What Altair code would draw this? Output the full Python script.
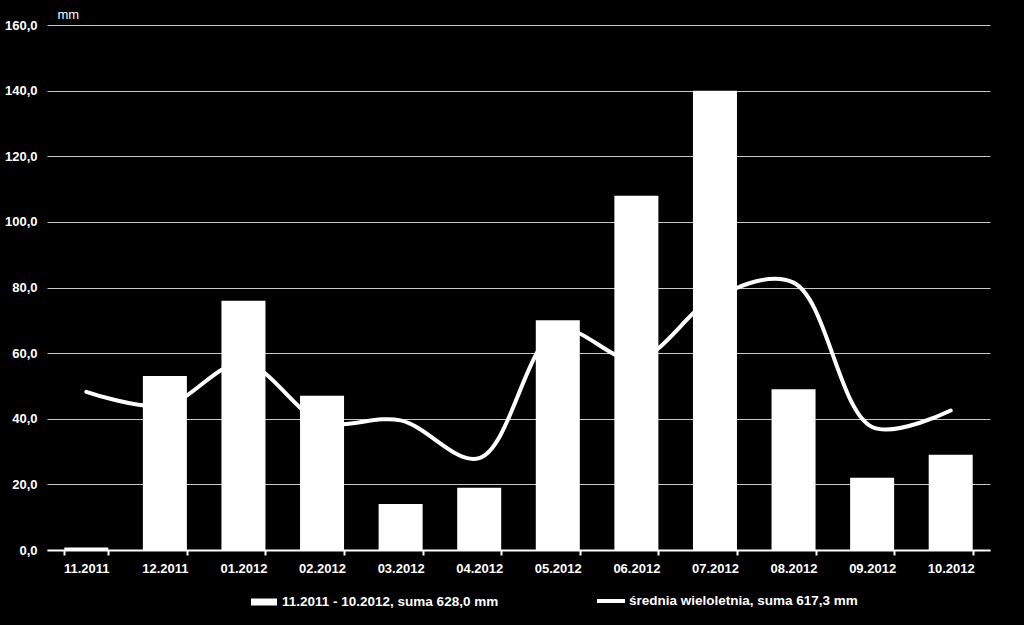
import altair as alt
import pandas as pd

months = ["11.2011", "12.2011", "01.2012", "02.2012", "03.2012", "04.2012",
          "05.2012", "06.2012", "07.2012", "08.2012", "09.2012", "10.2012"]
rain = [0.8, 53.0, 76.0, 47.0, 14.0, 19.0, 70.0, 108.0, 140.0, 49.0, 22.0, 29.0]
avg = [48.2, 44.0, 57.0, 39.0, 39.5, 28.0, 67.0, 58.0, 77.0, 81.5, 37.5, 42.5]
bar_label = "11.2011 - 10.2012, suma 628,0 mm"
line_label = "średnia wieloletnia, suma 617,3 mm"
y_ticks = [0, 20, 40, 60, 80, 100, 120, 140, 160]

df = pd.DataFrame({"month": months, "rain": rain, "avg": avg})
df["s1"] = bar_label
df["s2"] = line_label

FONT = "Liberation Sans"
FS = 13
LFS = 13.5

x = alt.X("month:N", sort=months, title=None,
          scale=alt.Scale(paddingInner=0.44, paddingOuter=0.22),
          axis=alt.Axis(labelAngle=0, labelColor="white", labelFont=FONT,
                        labelFontWeight="bold", labelFontSize=FS,
                        domainColor="white", domainWidth=2,
                        tickColor="white", tickWidth=2, tickSize=5,
                        tickBand="extent", labelPadding=7))

y_scale = alt.Scale(domain=[0, 160], nice=False)
y_axis = alt.Axis(values=y_ticks, title="mm", titleAngle=0, titleAlign="left",
                  titleBaseline="alphabetic",
                  titleX=10, titleY=-7, titleColor="white", titleFont=FONT,
                  titleFontSize=13, titleFontWeight="normal",
                  labelColor="white", labelFont=FONT, labelFontWeight="bold",
                  labelFontSize=FS, labelPadding=10,
                  labelExpr="replace(format(datum.value, '.1f'), '.', ',')",
                  domain=False, ticks=False, grid=True, gridColor="#c8c8c8",
                  gridWidth=1)

base = alt.Chart(df)

line = base.mark_line(interpolate="catmull-rom", strokeWidth=4, strokeCap="round").encode(
    x=x,
    y=alt.Y("avg:Q", scale=y_scale, axis=y_axis),
    stroke=alt.Stroke("s2:N", scale=alt.Scale(range=["white"]),
                      legend=alt.Legend(title=None, orient="none", legendX=548, legendY=560,
                                        symbolType="stroke", symbolSize=784,
                                        symbolStrokeWidth=4, labelColor="white",
                                        labelFont=FONT, labelFontWeight="bold",
                                        labelFontSize=LFS, labelOffset=2,
                                        labelLimit=400)),
)

bars = base.mark_bar(color="white").encode(
    x=x,
    y=alt.Y("rain:Q", scale=y_scale, axis=y_axis),
    fill=alt.Fill("s1:N", scale=alt.Scale(range=["white"]),
                  legend=alt.Legend(title=None, orient="none", legendX=204, legendY=564,
                                    symbolType="M-1,-0.27L1,-0.27L1,0.27L-1,0.27Z",
                                    symbolSize=676, symbolStrokeWidth=0,
                                    labelColor="white", labelFont=FONT,
                                    labelFontWeight="bold", labelFontSize=LFS,
                                    labelOffset=5, labelLimit=400)),
)

chart = alt.layer(line, bars).properties(
    width=943, height=525,
    autosize=alt.AutoSizeParams(type="none"),
    padding={"left": 47, "top": 25, "right": 34, "bottom": 75},
    background="black",
).configure_view(stroke=None)

chart.save("out.html", embed_options={"renderer": "svg", "actions": False})
